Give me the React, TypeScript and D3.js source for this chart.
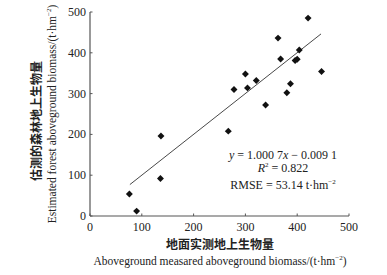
import React from "react";
import * as d3 from "d3";

const measured = [76, 90, 136, 137, 267, 278, 300, 304, 321, 339, 363, 368, 380, 387, 396, 400, 404, 421, 447];
const estimated = [54, 12, 92, 196, 208, 310, 348, 314, 332, 272, 436, 385, 302, 324, 381, 384, 407, 485, 354];
const xTicks = [0, 100, 200, 300, 400, 500];
const yTicks = [0, 100, 200, 300, 400, 500];
const fitRange = [77, 446];
const slope = 1.0007;
const intercept = -0.0091;

const W = 387, H = 275;
const left = 90, right = 349, top = 12, bottom = 216;

export default function App() {
  const x = d3.scaleLinear().domain([0, 500]).range([left, right]);
  const y = d3.scaleLinear().domain([0, 500]).range([bottom, top]);
  const sym = d3.symbol().type(d3.symbolSquare).size(24)();
  const line = d3.line<number>().x((d) => x(d)).y((d) => y(slope * d + intercept));
  const serif = "'Liberation Serif', 'Times New Roman', serif";
  const cjk = "'Noto Sans CJK SC', sans-serif";
  return (
    <svg width={W} height={H} style={{ position: "absolute", left: 0, top: 0, background: "#fff" }}>
      <g fontFamily={serif} fontSize={12} fill="#222">
        <line x1={left} x2={right} y1={bottom} y2={bottom} stroke="#555" strokeWidth={1.2} />
        <line x1={left} x2={left} y1={top} y2={bottom} stroke="#555" strokeWidth={1.2} />
        {xTicks.map((t) => (
          <g key={"x" + t}>
            <line x1={x(t)} x2={x(t)} y1={bottom} y2={bottom - 2.5} stroke="#555" />
            <text x={x(t)} y={bottom + 15} textAnchor="middle">{t}</text>
          </g>
        ))}
        {yTicks.map((t) => (
          <g key={"y" + t}>
            <line x1={left} x2={left + 2.5} y1={y(t)} y2={y(t)} stroke="#555" />
            <text x={left - 4} y={y(t) + 4} textAnchor="end">{t}</text>
          </g>
        ))}
        <path d={line(fitRange) || ""} stroke="#333" strokeWidth={0.9} fill="none" />
        {measured.map((m, i) => (
          <path key={i} d={sym} transform={`translate(${x(m)},${y(estimated[i])}) rotate(45)`} fill="#111" />
        ))}
        <text x={283} y={159} textAnchor="middle">
          <tspan fontStyle="italic">y</tspan> = 1.000 7<tspan fontStyle="italic">x</tspan> − 0.009 1
        </text>
        <text x={283} y={172} textAnchor="middle">
          <tspan fontStyle="italic">R</tspan><tspan fontSize={7} dy={-5}>2</tspan><tspan dy={5}> = 0.822</tspan>
        </text>
        <text x={283} y={189} textAnchor="middle">
          RMSE = 53.14 t·hm<tspan fontSize={7} dy={-5}>−2</tspan>
        </text>
        <text x={220} y={249} textAnchor="middle" fontFamily={cjk} fontWeight="bold" fontSize={12}>地面实测地上生物量</text>
        <text x={220} y={265} textAnchor="middle" fontSize={11.5}>
          Aboveground measared aboveground biomass/(t·hm<tspan fontSize={7} dy={-5}>−2</tspan><tspan dy={5}>)</tspan>
        </text>
        <text transform={`translate(41,121) rotate(-90)`} textAnchor="middle" fontFamily={cjk} fontWeight="bold" fontSize={12}>估测的森林地上生物量</text>
        <text transform={`translate(56,114) rotate(-90)`} textAnchor="middle" fontSize={11.5}>
          Estimated forest aboveground biomass/(t·hm<tspan fontSize={7} dy={-5}>−2</tspan><tspan dy={5}>)</tspan>
        </text>
      </g>
    </svg>
  );
}
